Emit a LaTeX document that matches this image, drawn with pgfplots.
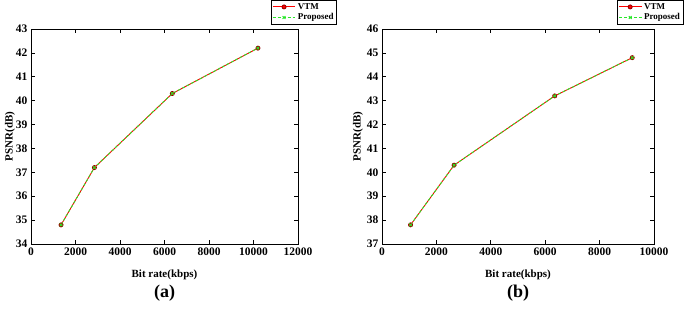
\documentclass[border=0pt]{standalone}
\usepackage{fontspec}
\setmainfont{Liberation Serif}
\usepackage{pgfplots}
\pgfplotsset{compat=1.18}
\pgfplotstableread{
x y
1350 34.8
2850 37.2
6350 40.3
10200 42.2
}\dataA
\pgfplotstableread{
x y
1050 37.8
2650 40.3
6350 43.2
9200 44.8
}\dataB
\definecolor{vtmred}{RGB}{255,0,0}
\definecolor{propgreen}{RGB}{40,230,40}
\pgfplotsset{
  myaxis/.style={
    scale only axis,
    clip=false,
    height=215pt,
    axis line style={line width=0.8pt},
    every tick/.style={black, line width=0.7pt},
    major tick length=4pt,
    tick align=inside,
    scaled ticks=false,
    /pgf/number format/assume math mode=true,
    /pgf/number format/1000 sep={},
    tick label style={font=\fontsize{11.5}{13}\selectfont\bfseries},
    label style={font=\fontsize{11}{13}\selectfont\bfseries},
    xlabel={Bit rate(kbps)},
    ylabel={PSNR(dB)},
    xlabel style={at={(axis description cs:0.5,-0.144)}, anchor=center},
    legend style={font=\fontsize{9}{10}\selectfont\bfseries, draw=black, line width=0.5pt, anchor=north east, inner sep=1pt, row sep=-1pt, cells={anchor=west}},
    legend image code/.code={\draw[mark repeat=2,mark phase=2] plot coordinates {(0cm,0cm) (0.4cm,0cm) (0.8cm,0cm)};},
    legend cell align=left,
  },
  vtm/.style={color=vtmred, line width=0.9pt, mark=*, mark size=2pt, mark options={solid, fill=vtmred, draw=vtmred!60!black}},
  prop/.style={color=propgreen, line width=0.9pt, dashed, dash pattern=on 3pt off 2pt, mark=x, mark size=2pt, mark options={solid}},
}
\begin{document}
\begin{tikzpicture}
\useasboundingbox (0,0) rectangle (685pt,308pt);
\begin{axis}[myaxis, at={(31pt,64pt)}, anchor=south west, width=267pt,
  xmin=0, xmax=12000, ymin=34, ymax=43,
  xtick={0,2000,...,12000}, ytick={34,35,...,43},
  ylabel style={at={(axis description cs:-0.079,0.5)}, anchor=center},
  legend style={at={(axis description cs:1.146,1.135)}}]
\addplot[vtm] table[x=x,y=y] {\dataA};
\addlegendentry{VTM}
\addplot[prop] table[x=x,y=y] {\dataA};
\addlegendentry{Proposed}
\node[font=\fontsize{18}{20}\selectfont\bfseries] at (axis description cs:0.5,-0.228) {(a)};
\end{axis}
\begin{axis}[myaxis, at={(382pt,64pt)}, anchor=south west, width=272pt,
  xmin=0, xmax=10000, ymin=37, ymax=46,
  xtick={0,2000,...,10000}, ytick={37,38,...,46},
  ylabel style={at={(axis description cs:-0.088,0.5)}, anchor=center},
  legend style={at={(axis description cs:1.107,1.135)}}]
\addplot[vtm] table[x=x,y=y] {\dataB};
\addlegendentry{VTM}
\addplot[prop] table[x=x,y=y] {\dataB};
\addlegendentry{Proposed}
\node[font=\fontsize{18}{20}\selectfont\bfseries] at (axis description cs:0.5,-0.228) {(b)};
\end{axis}
\end{tikzpicture}
\end{document}
